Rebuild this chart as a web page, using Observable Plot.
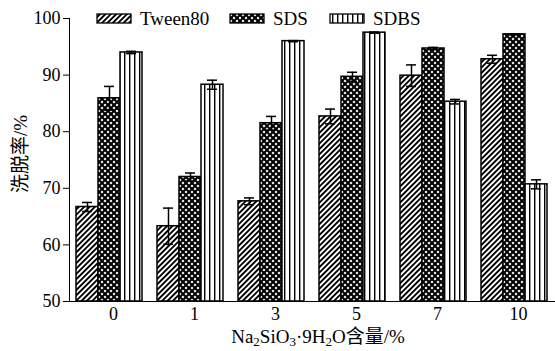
<!DOCTYPE html>
<html>
<head>
<meta charset="utf-8">
<script src="https://cdn.jsdelivr.net/npm/d3@7"></script>
<script src="https://cdn.jsdelivr.net/npm/@observablehq/plot@0.6"></script>
<style>
  html, body { margin: 0; padding: 0; background: #fff; }
  #chart svg { display: block; }
  #chart svg text, #chart svg tspan { font-family: 'Liberation Serif', 'Times New Roman', 'Noto Sans CJK SC', serif !important; }
</style>
</head>
<body>
<div id="chart"></div>
<script>
// ---- data ----
const concentrations = ["0", "1", "3", "5", "7", "10"];
const seriesNames = ["Tween80", "SDS", "SDBS"];
const tween80 = [66.7, 63.3, 67.7, 82.7, 89.9, 92.8];
const tween80Err = [0.8, 3.2, 0.6, 1.3, 1.9, 0.7];
const sds = [85.9, 72.0, 81.5, 89.7, 94.7, 97.2];
const sdsErr = [2.1, 0.7, 1.2, 0.8, 0.2, 0.1];
const sdbs = [94.0, 88.3, 96.0, 97.5, 85.3, 70.7];
const sdbsErr = [0.2, 0.8, 0.1, 0.1, 0.4, 0.8];
const yTicks = [50, 60, 70, 80, 90, 100];

const valuesBySeries = {Tween80: [tween80, tween80Err], SDS: [sds, sdsErr], SDBS: [sdbs, sdbsErr]};
const patternIds = {Tween80: "pat-tween", SDS: "pat-sds", SDBS: "pat-sdbs"};
const offsets = {Tween80: -22, SDS: 0, SDBS: 22};

const font = "'Liberation Serif', 'Times New Roman', 'Noto Sans CJK SC', serif";

const marks = [];
for (const s of seriesNames) {
  const [vals, errs] = valuesBySeries[s];
  const rows = concentrations.map((c, i) => ({conc: c, value: vals[i], err: errs[i]}));
  const dx = offsets[s];
  marks.push(Plot.barY(rows, {
    x: "conc", y1: 50, y2: "value", dx,
    insetLeft: 22, insetRight: 22,
    fill: `url(#${patternIds[s]})`, stroke: "black", strokeWidth: 1.5
  }));
  marks.push(Plot.ruleX(rows, {
    x: "conc", y1: d => d.value - d.err, y2: d => d.value + d.err, dx,
    stroke: "black", strokeWidth: 1.5
  }));
  marks.push(Plot.tickY(rows, {
    x: "conc", y: d => d.value + d.err, dx, insetLeft: 28, insetRight: 28,
    stroke: "black", strokeWidth: 1.5
  }));
  marks.push(Plot.tickY(rows, {
    x: "conc", y: d => d.value - d.err, dx, insetLeft: 28, insetRight: 28,
    stroke: "black", strokeWidth: 1.5
  }));
}

const plot = Plot.plot({
  width: 555,
  height: 351,
  marginLeft: 69,
  marginRight: 0,
  marginTop: 18,
  marginBottom: 50,
  style: {fontFamily: font, fontSize: "18px", color: "black", background: "white"},
  x: {
    type: "band", domain: concentrations,
    paddingInner: 0.185, paddingOuter: 0.09,
    label: null, tickSize: 0, tickPadding: 6, line: true
  },
  y: {
    domain: [50, 100], ticks: yTicks, tickSize: 6, tickPadding: 3,
    label: null, line: true
  },
  marks
});

document.getElementById("chart").appendChild(plot);

// ---- patterns, legend and axis titles ----
const svg = d3.select(plot);
svg.selectAll('[aria-label="x-axis tick label"] text').attr("dx", 4);
const defs = svg.insert("defs", ":first-child");

// diagonal hatch
const p1 = defs.append("pattern").attr("id", "pat-tween")
  .attr("patternUnits", "userSpaceOnUse").attr("width", 3.8).attr("height", 3.8)
  .attr("patternTransform", "rotate(45)");
p1.append("rect").attr("width", 3.8).attr("height", 3.8).attr("fill", "white");
p1.append("rect").attr("x", 0).attr("width", 1.9).attr("height", 3.8).attr("fill", "black");

// dense cross-hatch (black with white diamonds)
const p2 = defs.append("pattern").attr("id", "pat-sds")
  .attr("patternUnits", "userSpaceOnUse").attr("width", 6).attr("height", 6);
p2.append("rect").attr("width", 6).attr("height", 6).attr("fill", "black");
for (const [cx, cy] of [[0, 0], [6, 0], [0, 6], [6, 6], [3, 3]]) {
  p2.append("path").attr("d", `M${cx - 1.5},${cy}L${cx},${cy - 1.5}L${cx + 1.5},${cy}L${cx},${cy + 1.5}Z`).attr("fill", "white");
}

// vertical lines
const p3 = defs.append("pattern").attr("id", "pat-sdbs")
  .attr("patternUnits", "userSpaceOnUse").attr("width", 5).attr("height", 5);
p3.append("rect").attr("width", 5).attr("height", 5).attr("fill", "white");
p3.append("rect").attr("x", 2).attr("width", 1.4).attr("height", 5).attr("fill", "black");

// legend
const legend = svg.append("g").attr("font-size", 19).attr("text-anchor", "start");
const legendX = [97, 230, 330];
seriesNames.forEach((s, i) => {
  legend.append("rect").attr("x", legendX[i]).attr("y", 14).attr("width", 34).attr("height", 9)
    .attr("fill", `url(#${patternIds[s]})`).attr("stroke", "black").attr("stroke-width", 1.3);
  legend.append("text").attr("x", legendX[i] + 43).attr("y", 25).attr("text-anchor", "start").text(s);
});

// y title
svg.append("text")
  .attr("transform", "translate(27,154) rotate(-90)")
  .attr("text-anchor", "middle")
  .attr("font-size", 19)
  .text("洗脱率/%");

// x title with subscripts
const xt = svg.append("text")
  .attr("x", 318).attr("y", 343)
  .attr("text-anchor", "middle")
  .attr("font-size", 19);
xt.append("tspan").text("Na");
xt.append("tspan").attr("font-size", 13).attr("dy", 3).text("2");
xt.append("tspan").attr("dy", -3).text("SiO");
xt.append("tspan").attr("font-size", 13).attr("dy", 3).text("3");
xt.append("tspan").attr("dy", -3).text("·9H");
xt.append("tspan").attr("font-size", 13).attr("dy", 3).text("2");
xt.append("tspan").attr("dy", -3).text("O含量/%");
</script>
</body>
</html>
